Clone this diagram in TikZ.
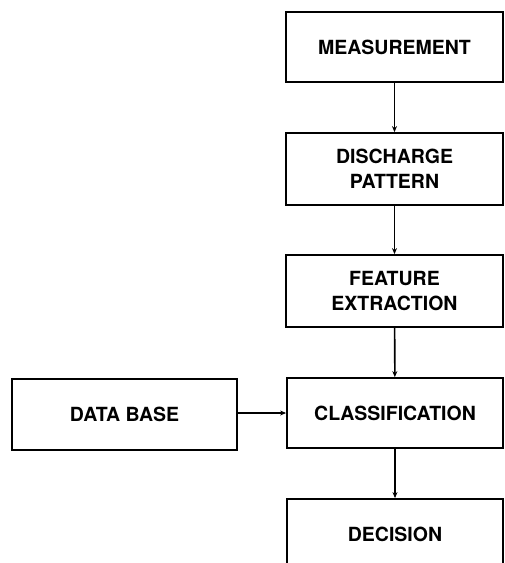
\documentclass[tikz,border=0pt]{standalone}
\usepackage{fontspec}
\setmainfont{TeX Gyre Heros}
\usetikzlibrary{arrows.meta}
\tikzset{
  blk/.style={draw, line width=1.8pt, inner sep=0pt, align=center,
    font=\fontsize{19.5}{25}\selectfont\bfseries},
  arr/.style={line width=1.6pt, -{Stealth[length=6pt,width=5pt]}}
}
\begin{document}
\begin{tikzpicture}[x=1pt,y=1pt]
\useasboundingbox (0,0) rectangle (505,-563);
\clip (0,0) rectangle (505,-563);
\fill[white] (0,0) rectangle (505,-563);
\node[blk, minimum width=217pt, minimum height=70pt] (meas) at (394.5,-47) {MEASUREMENT};
\node[blk, minimum width=217pt, minimum height=72pt] (disc) at (394.5,-169) {DISCHARGE\\PATTERN};
\node[blk, minimum width=217pt, minimum height=72pt] (feat) at (394.5,-291) {FEATURE\\EXTRACTION};
\node[blk, minimum width=216pt, minimum height=70pt] (class) at (395,-413) {CLASSIFICATION};
\node[blk, minimum width=225pt, minimum height=71pt] (db) at (124.5,-414.5) {DATA BASE};
\node[blk, minimum width=216pt, minimum height=70pt] (dec) at (395,-534) {DECISION};
\draw[arr] (meas) -- (disc);
\draw[arr] (disc) -- (feat);
\draw[arr] (feat) -- (class);
\draw[arr] (class) -- (dec);
\draw[arr] (db.east |- class.west) -- (class.west);
\end{tikzpicture}
\end{document}
